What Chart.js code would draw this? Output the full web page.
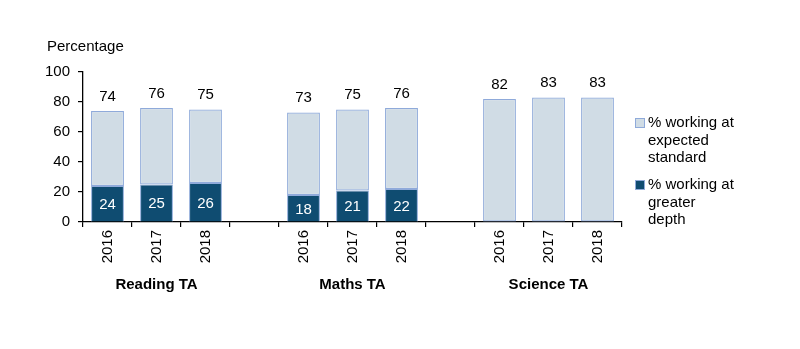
<!DOCTYPE html>
<html>
<head>
<meta charset="utf-8">
<script src="https://cdn.jsdelivr.net/npm/chart.js@4/dist/chart.umd.min.js"></script>
<style>
html,body{margin:0;padding:0;background:#fff;}
#wrap{width:800px;height:349px;position:relative;}
</style>
</head>
<body>
<div id="wrap"><canvas id="c" width="800" height="349"></canvas></div>
<script>
const categories = ['2016','2017','2018','','2016','2017','2018','','2016','2017','2018'];
const groupLabels = ['Reading TA','Maths TA','Science TA'];
const totals = [74,76,75,null,73,75,76,null,82,83,83];
const greaterDepth = [24,25,26,null,18,21,22,null,null,null,null];
const seriesNames = [['% working at','expected','standard'],['% working at','greater','depth']];
const yTitle = 'Percentage';

const expectedOnly = totals.map((t,i)=> t==null ? null : t - (greaterDepth[i]||0));

const FONT = "'Liberation Sans', Arial, sans-serif";
const LIGHT = '#D0DCE5', DARK = '#0F4C71', EDGE = '#8FAADA';

const extras = {
  id:'extras',
  afterDatasetsDraw(chart){
    const ctx = chart.ctx, x = chart.scales.x, y = chart.scales.y;
    ctx.save();
    ctx.font = '15px ' + FONT;
    ctx.textAlign = 'center';
    ctx.fillStyle = '#000';
    ctx.textBaseline = 'bottom';
    totals.forEach((v,i)=>{ if(v==null) return;
      ctx.fillText(String(v), x.getPixelForValue(i), y.getPixelForValue(v) - 7);
    });
    ctx.fillStyle = '#fff';
    ctx.textBaseline = 'middle';
    greaterDepth.forEach((v,i)=>{ if(v==null) return;
      ctx.fillText(String(v), x.getPixelForValue(i), (y.getPixelForValue(0)+y.getPixelForValue(v))/2 + 1);
    });
    ctx.fillStyle = '#000';
    ctx.textAlign = 'left';
    ctx.textBaseline = 'middle';
    ctx.fillText(yTitle, 47, 47);
    ctx.font = 'bold 15px ' + FONT;
    ctx.textAlign = 'center';
    [1,5,9].forEach((idx,g)=>{
      ctx.fillText(groupLabels[g], x.getPixelForValue(idx), 285);
    });
    ctx.font = '15px ' + FONT;
    ctx.textAlign = 'left';
    const items = [{c:LIGHT, y0:123},{c:DARK, y0:185}];
    items.forEach((it,k)=>{
      ctx.fillStyle = it.c;
      ctx.fillRect(636, it.y0-4, 8, 8);
      ctx.strokeStyle = EDGE; ctx.lineWidth = 1;
      ctx.strokeRect(635.5, it.y0-4.5, 9, 9);
      ctx.fillStyle = '#000';
      seriesNames[k].forEach((line,j)=>{
        ctx.fillText(line, 648, it.y0 + j*17.5);
      });
    });
    ctx.restore();
  }
};

new Chart(document.getElementById('c'), {
  type:'bar',
  data:{
    labels: categories,
    datasets:[
      {label:'% working at greater depth', data: greaterDepth, backgroundColor: DARK, borderColor: EDGE, borderWidth:1, borderSkipped:'start', barPercentage:0.67, categoryPercentage:1.0, stack:'s'},
      {label:'% working at expected standard', data: expectedOnly, backgroundColor: LIGHT, borderColor: EDGE, borderWidth:1.2, borderSkipped:false, barPercentage:0.67, categoryPercentage:1.0, stack:'s'}
    ]
  },
  options:{
    responsive:false,
    animation:false,
    layout:{padding:{left:0, right:178, top:72, bottom:0}},
    plugins:{legend:{display:false}, tooltip:{enabled:false}},
    scales:{
      x:{
        stacked:true,
        grid:{display:true, drawOnChartArea:false, drawTicks:true, tickLength:5, color:'#000', offset:true, lineWidth:1.2},
        border:{display:true, color:'#000', width:1.3},
        ticks:{color:'#000', font:{family:FONT, size:15}, minRotation:90, maxRotation:90, padding:3, autoSkip:false},
        afterFit(s){ s.height = 127; }
      },
      y:{
        stacked:true,
        min:0, max:100,
        grid:{display:true, drawOnChartArea:false, drawTicks:true, tickLength:5, color:'#000', lineWidth:1.2},
        border:{display:true, color:'#000', width:1.3},
        ticks:{stepSize:20, color:'#000', font:{family:FONT, size:15}, padding:8},
        afterFit(s){ s.width = 83; }
      }
    }
  },
  plugins:[extras]
});
</script>
</body>
</html>
